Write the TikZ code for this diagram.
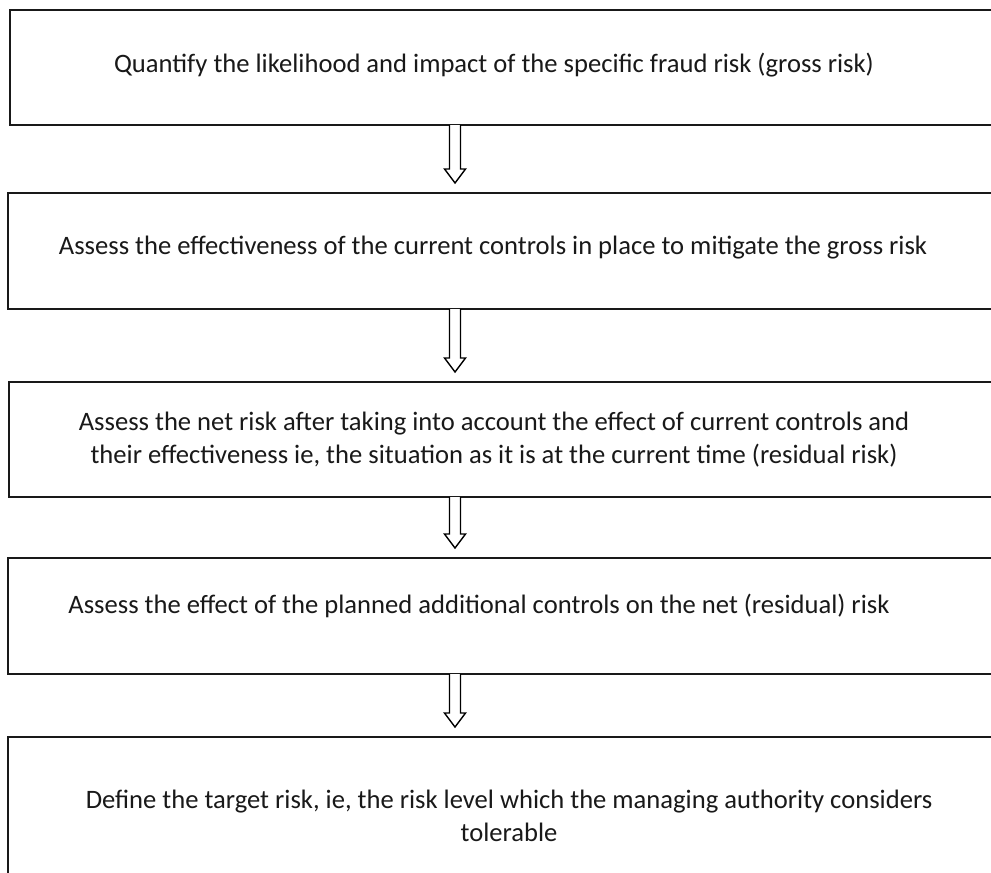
\documentclass[tikz,border=0pt]{standalone}
\usepackage{fontspec}
\setmainfont{Carlito}
\usetikzlibrary{calc}
\tikzset{
  stepbox/.style={draw=black!90, line width=1.6pt, rectangle, inner sep=0pt, outer sep=0pt, anchor=north west, minimum width=995},
  steptext/.style={font=\fontsize{26.6}{32.5}\selectfont, inner sep=0pt, align=center, text=black!90},
  hollowarrow/.style={draw=black, line width=1.4pt, fill=white, line join=miter}
}
\newcommand{\blockarrow}[2]{%
  \path (#1.south -| 455,0) coordinate (bas) (#2.north -| 455,0) coordinate (tip0);
  \coordinate (tip) at ($(tip0)+(0,-10)$);
  \draw[hollowarrow] ($(bas)+(-5.5,0)$) -- ($(tip)+(-5.5,-14)$) -- ($(tip)+(-10.5,-14)$) -- (tip)
     -- ($(tip)+(10.5,-14)$) -- ($(tip)+(5.5,-14)$) -- ($(bas)+(5.5,0)$);
}
\begin{document}
\begin{tikzpicture}[x=1pt, y=-1pt]
\useasboundingbox (0,0) rectangle (991,873);
\clip (0,0) rectangle (991,873);
\fill[white] (0,0) rectangle (991,873);
% boxes
\node[stepbox, minimum height=115] (b1) at (10,10) {};
\node[stepbox, minimum height=116] (b2) at (8,193) {};
\node[stepbox, minimum height=115] (b3) at (9,382) {};
\node[stepbox, minimum height=116] (b4) at (8,558) {};
\node[stepbox, minimum height=180] (b5) at (8,737) {};
% texts
\node[steptext, anchor=base] (t1) at (494,72) {Quantify the likelihood and impact of the specific fraud risk (gross risk)};
\node[steptext, anchor=base] (t2) at (493,254) {Assess the effectiveness of the current controls in place to mitigate the gross risk};
\node[steptext] (t3) at (494,439.5) {Assess the net risk after taking into account the effect of current controls and\\their effectiveness ie, the situation as it is at the current time (residual risk)};
\node[steptext, anchor=base] (t4) at (479,613) {Assess the effect of the planned additional controls on the net (residual) risk};
\node[steptext] (t5) at (509,816) {Define the target risk, ie, the risk level which the managing authority considers\\tolerable};
% arrows
\blockarrow{b1}{b2}
\blockarrow{b2}{b3}
\blockarrow{b3}{b4}
\blockarrow{b4}{b5}
\end{tikzpicture}
\end{document}
